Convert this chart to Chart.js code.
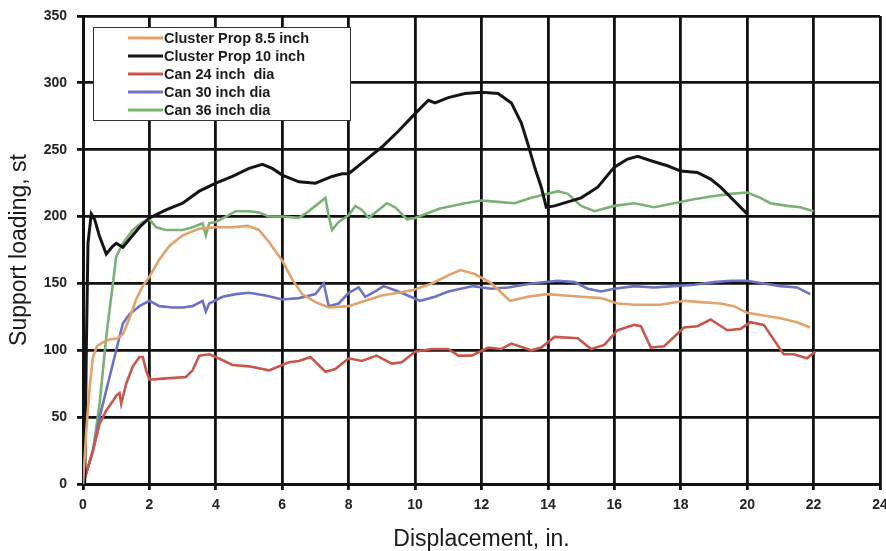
<!DOCTYPE html>
<html>
<head>
<meta charset="utf-8">
<script src="https://cdn.jsdelivr.net/npm/chart.js@4"></script>
<style>
  html, body { margin: 0; padding: 0; background: #fff; }
  #wrap { width: 886px; height: 551px; position: relative; }
</style>
</head>
<body>
<div id="wrap"><canvas id="c"></canvas></div>
<script>
// ---- Data ----
const seriesNames = ["Cluster Prop 8.5 inch", "Cluster Prop 10 inch", "Can 24 inch  dia", "Can 30 inch dia", "Can 36 inch dia"];

const prop85X = [0,0.1,0.2,0.3,0.42,0.6,0.8,1.05,1.2,1.4,1.6,1.8,2.0,2.3,2.6,3.0,3.5,4.0,4.5,4.97,5.3,5.6,6.0,6.3,6.6,7.0,7.4,8.0,8.5,9.0,9.5,9.94,10.5,11.0,11.36,11.8,12.3,12.86,13.4,13.97,14.5,15.0,15.6,16.1,16.6,17.4,18.1,18.6,19.2,19.6,20.0,20.5,21.0,21.5,21.9];
const prop85Y = [0,40,72,95,103,106,108,109,112,124,138,148,155,168,178,186,191,192,192,193,190,181,167,153,142,136,132,133,137,141,143,145,150,156,160,157,150,137,140,142,141,140,139,135,134,134,137,136,135,133,128,126,124,121,117];

const prop10X = [0.05,0.1,0.15,0.25,0.35,0.5,0.7,0.9,1.0,1.2,1.4,1.7,2.0,2.5,3.0,3.5,4.0,4.5,5.0,5.4,5.7,6.0,6.5,7.0,7.5,7.8,8.0,8.5,9.0,9.5,10.0,10.4,10.6,11.0,11.5,12.0,12.5,12.9,13.2,13.4,13.6,13.8,13.95,14.2,14.6,15.0,15.5,16.0,16.4,16.7,17.2,17.6,18.0,18.5,18.9,19.2,19.6,20.0];
const prop10Y = [0,100,180,202,198,185,172,178,180,177,183,192,199,205,210,219,225,230,236,239,236,231,226,225,230,232,232,242,252,264,277,287,285,289,292,293,292,285,270,254,237,222,207,208,211,214,222,237,243,245,241,238,234,233,228,222,212,202];

const can24X = [0,0.3,0.5,0.7,0.9,1.0,1.1,1.15,1.3,1.5,1.7,1.8,1.9,2.0,2.5,3.1,3.3,3.5,3.8,4.0,4.5,5.0,5.6,6.2,6.5,6.85,7.3,7.6,8.0,8.4,8.84,9.3,9.6,10.0,10.5,11.0,11.3,11.7,12.2,12.6,12.9,13.5,13.8,14.2,14.9,15.3,15.7,16.1,16.6,16.8,17.1,17.5,18.1,18.5,18.9,19.4,19.8,20.1,20.5,21.1,21.4,21.8,22.05];
const can24Y = [0,25,45,55,62,66,68,60,75,88,95,95,85,78,79,80,85,96,97,95,89,88,85,91,92,95,84,86,94,92,96,90,91,99,101,101,96,96,102,101,105,100,102,110,109,101,104,115,119,118,102,103,117,118,123,115,116,121,119,97,97,94,99];

const can30X = [0,0.3,0.5,0.7,1.0,1.2,1.4,1.7,2.0,2.3,2.7,3.0,3.3,3.6,3.7,3.8,4.2,4.6,5.0,5.5,6.0,6.5,7.0,7.25,7.4,7.7,8.0,8.3,8.5,8.8,9.05,9.5,10.15,10.6,11.0,11.75,12.3,12.8,13.5,14.3,14.8,15.2,15.6,16.0,16.6,17.2,17.8,18.4,19.0,19.5,20.0,20.5,21.0,21.5,21.9];
const can30Y = [0,25,50,70,100,120,127,133,137,133,132,132,133,137,129,135,140,142,143,141,138,139,142,150,133,135,143,147,140,144,148,144,137,140,144,148,146,147,150,152,151,146,144,146,148,147,148,149,151,152,152,150,148,147,142];

const can36X = [0,0.3,0.5,0.7,1.0,1.2,1.5,1.8,2.0,2.2,2.5,3.0,3.3,3.6,3.7,3.8,4.0,4.3,4.6,5.0,5.3,5.6,6.0,6.5,6.8,7.0,7.3,7.4,7.5,7.7,8.0,8.2,8.4,8.6,9.15,9.4,9.75,10.0,10.75,11.5,12.0,12.5,13.0,13.5,14.0,14.3,14.6,15.0,15.4,16.0,16.6,17.2,17.8,18.4,18.9,19.5,20.0,20.4,20.7,21.2,21.6,22.0];
const can36Y = [0,25,60,110,170,180,190,196,198,192,190,190,192,195,186,195,196,200,204,204,203,200,200,199,204,208,214,200,190,196,201,208,205,199,210,207,198,199,206,210,212,211,210,214,217,219,217,208,204,208,210,207,210,213,215,217,218,214,210,208,207,204];

const xTicks = [0,2,4,6,8,10,12,14,16,18,20,22,24];
const yTicks = [0,50,100,150,200,250,300,350];

const seriesColors = ["#E2A26C", "#151515", "#C8574B", "#6C73C2", "#7AB274"];

// ---- Build datasets ----
function pts(xs, ys) { return xs.map((x, i) => ({ x: x, y: ys[i] })); }
const allX = [prop85X, prop10X, can24X, can30X, can36X];
const allY = [prop85Y, prop10Y, can24Y, can30Y, can36Y];
const datasets = seriesNames.map((name, i) => ({
  label: name,
  data: pts(allX[i], allY[i]),
  borderColor: seriesColors[i],
  backgroundColor: seriesColors[i],
  borderWidth: i === 1 ? 3 : 2.6,
  pointRadius: 0,
  tension: 0,
  fill: false
}));

// ---- Custom in-plot legend ----
const boxLegend = {
  id: 'boxLegend',
  afterDraw(chart) {
    const ctx = chart.ctx;
    const x0 = 93, y0 = 27, w = 257, h = 93;
    ctx.save();
    ctx.fillStyle = '#fff';
    ctx.fillRect(x0, y0, w, h);
    ctx.strokeStyle = '#333';
    ctx.lineWidth = 1;
    ctx.strokeRect(x0 + 0.5, y0 + 0.5, w, h);
    ctx.font = 'bold 14.5px "Liberation Sans", Arial, sans-serif';
    ctx.textBaseline = 'middle';
    ctx.fillStyle = '#1a1a1a';
    chart.data.datasets.forEach((ds, i) => {
      const cy = y0 + 11 + i * 18;
      ctx.strokeStyle = ds.borderColor;
      ctx.lineWidth = 3;
      ctx.beginPath();
      ctx.moveTo(128, cy);
      ctx.lineTo(163, cy);
      ctx.stroke();
      ctx.fillText(ds.label, 164, cy + 1);
    });
    ctx.restore();
  }
};

const tickFont = { family: '"Liberation Sans", Arial, sans-serif', size: 14, weight: 'bold' };
const titleFont = { family: '"Liberation Sans", Arial, sans-serif', size: 23, weight: 'normal', lineHeight: 1 };

new Chart(document.getElementById('c'), {
  type: 'line',
  data: { datasets: datasets },
  plugins: [boxLegend],
  options: {
    responsive: true,
    maintainAspectRatio: false,
    animation: false,
    events: [],
    layout: { padding: { left: 0, right: 6, top: 16, bottom: 0 } },
    plugins: { legend: { display: false }, tooltip: { enabled: false } },
    scales: {
      x: {
        type: 'linear',
        min: 0, max: 24,
        afterBuildTicks(scale) { scale.ticks = xTicks.map(v => ({ value: v })); },
        afterFit(scale) { scale.height = 67; scale.paddingRight = 0; scale.paddingLeft = 0; },
        ticks: { color: '#222', font: tickFont, padding: 7, maxRotation: 0, autoSkip: false },
        grid: { color: '#111', lineWidth: 2.8, tickLength: 6, tickColor: '#111' },
        border: { color: '#111', width: 3 },
        title: { display: true, text: 'Displacement, in.', color: '#1a1a1a', font: titleFont, padding: { top: 0, bottom: 0 } }
      },
      y: {
        type: 'linear',
        min: 0, max: 350,
        afterBuildTicks(scale) { scale.ticks = yTicks.map(v => ({ value: v })); },
        afterFit(scale) { scale.width = 83; scale.paddingTop = 0; scale.paddingBottom = 0; },
        ticks: { color: '#222', font: tickFont, padding: 10 },
        grid: { color: '#111', lineWidth: 2.8, tickLength: 6, tickColor: '#111' },
        border: { color: '#111', width: 3 },
        title: { display: true, text: 'Support loading, st', color: '#1a1a1a', font: titleFont, padding: { top: 8, bottom: 0 } }
      }
    }
  }
});
</script>
</body>
</html>
